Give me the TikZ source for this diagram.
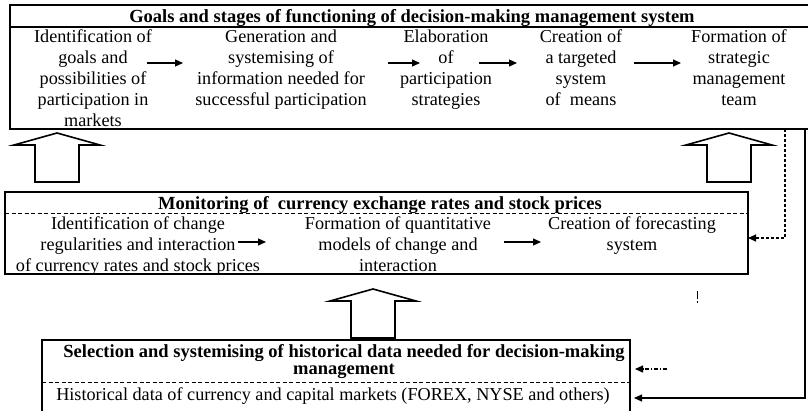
\documentclass[tikz,border=0pt]{standalone}
\usepackage{fontspec}
\setmainfont{Liberation Serif}
\usetikzlibrary{arrows.meta}

% block arrow pointing up: centre x, tip y
\newcommand{\blockup}[2]{%
  \draw[block] (#1,#2) -- ++(43,12) -- ++(-21,0) -- ++(0,37)
    -- ++(-44,0) -- ++(0,-37) -- ++(-21,0) -- cycle;}

\begin{document}
\begin{tikzpicture}[x=1pt, y=-1pt,
    txt/.style={font=\fontsize{18.2}{21}\selectfont, align=center, inner sep=0pt},
    head/.style={txt, font=\fontsize{18.5}{17}\selectfont\bfseries},
    frame/.style={line width=1.2pt},
    sep/.style={line width=0.9pt, dash pattern=on 4pt off 2.5pt},
    flow/.style={line width=1.1pt, -{Triangle[length=8pt, width=7pt]}},
    block/.style={line width=1.6pt, line join=miter},
    link/.style={line width=1.1pt, -{Triangle[length=8pt, width=7pt]}}]
  \useasboundingbox (0,0) rectangle (808,410);

  % Frames
  \draw[frame] (808,5) -- (10,5) -- (10,129) -- (808,129);
  \draw[frame] (10,27) -- (808,27);
  \draw[frame] (5,192) rectangle (748,274);
  \draw[sep] (5,213) -- (748,213);
  \draw[frame] (42,412) -- (42,340) -- (630,340) -- (630,412);
  \draw[sep] (42,382) -- (630,382);

  % Goals and stages
  \node[head, anchor=base] (goals) at (412,22)
    {Goals and stages of functioning of decision-making management system};
  \node[txt, anchor=north] (g1) at (93,29.5)
    {Identification of\\goals and\\possibilities of\\participation in\\markets};
  \node[txt, anchor=north] (g2) at (281,29.5)
    {Generation and\\systemising of\\information needed for\\successful participation};
  \node[txt, anchor=north] (g3) at (446,29.5)
    {Elaboration\\of\\participation\\strategies};
  \node[txt, anchor=north] (g4) at (581,29.5)
    {Creation of\\a targeted\\system\\of~ means};
  \node[txt, anchor=north] (g5) at (739,29.5)
    {Formation of\\strategic\\management\\team};

  % Monitoring
  \node[head, anchor=base] (mon) at (380,209)
    {Monitoring of~ currency exchange rates and stock prices};
  \node[txt, anchor=north] (m1) at (138,216)
    {Identification of change\\regularities and interaction\\of currency rates and stock prices};
  \node[txt, anchor=north] (m2) at (398,216)
    {Formation of quantitative\\models of change and\\interaction};
  \node[txt, anchor=north] (m3) at (632,216)
    {Creation of forecasting\\system};

  % Historical data
  \node[head, anchor=north] (sel) at (344,344)
    {Selection and systemising of historical data needed for decision-making\\management};
  \node[txt, anchor=base] (hist) at (333,400)
    {Historical data of currency and capital markets (FOREX, NYSE and others)};

  % Ends of the step arrows
  \coordinate (s1) at (147,63); \coordinate (t1) at (183,63);
  \coordinate (s2) at (388,63); \coordinate (t2) at (420,63);
  \coordinate (s3) at (479,63); \coordinate (t3) at (517,63);
  \coordinate (s4) at (634,63); \coordinate (t4) at (681,63);
  \coordinate (s5) at (238,242); \coordinate (t5) at (266,242);
  \coordinate (s6) at (504,242); \coordinate (t6) at (541,242);
  \foreach \i in {1,...,6}
    \draw[flow] (s\i) -- (t\i);

  % Block arrows
  \blockup{57}{133}
  \blockup{729}{133}
  \blockup{373}{289}

  % Feedback lines on the right
  \coordinate (fbTop) at (785,129);
  \coordinate (fbMid) at (748,238);
  \draw[link, dash pattern=on 3pt off 2pt] (fbTop) |- (fbMid);
  \coordinate (hdTop) at (805,129);
  \coordinate (hdIn) at (634,398);
  \draw[link] (hdTop) |- (hdIn);
  \coordinate (selS) at (667,369);
  \coordinate (selT) at (635,369);
  \draw[link, dash pattern=on 4pt off 2pt on 1pt off 2pt] (selS) -- (selT);
  \draw[line width=1pt, dash pattern=on 8pt off 2pt on 2pt off 4pt] (697,291) -- (697,304);
\end{tikzpicture}
\end{document}
